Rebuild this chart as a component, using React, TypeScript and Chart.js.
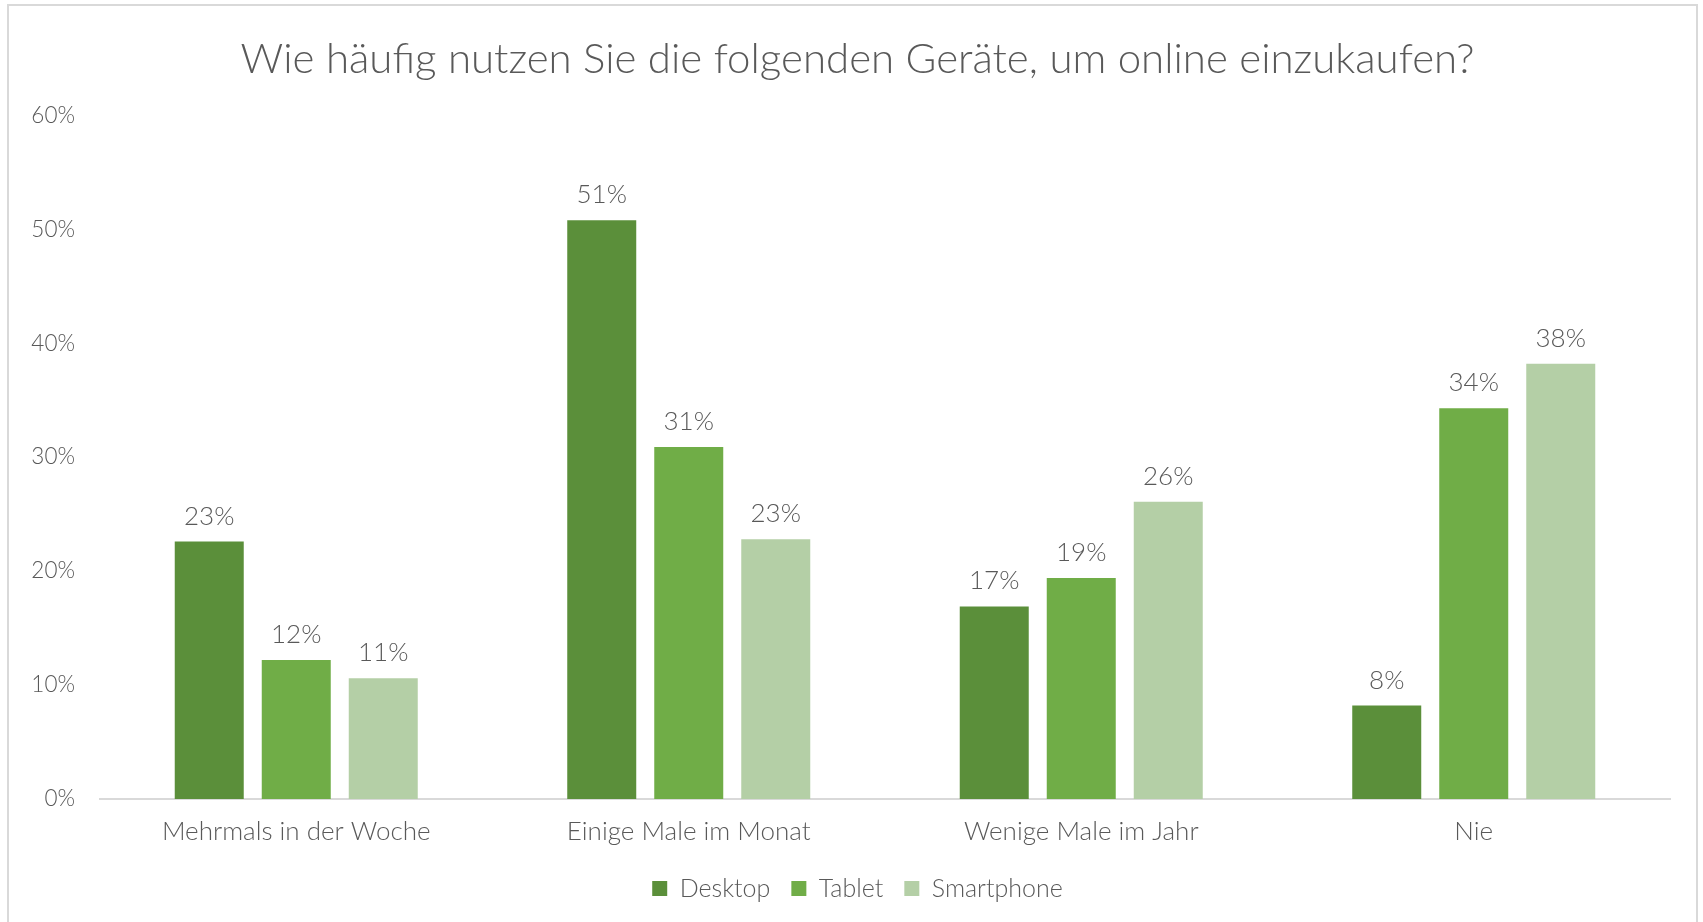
import React, { useEffect, useRef } from "react";
import { Chart, registerables } from "chart.js";

Chart.register(...registerables);

const titleText = "Wie häufig nutzen Sie die folgenden Geräte, um online einzukaufen?";
const categories = ["Mehrmals in der Woche", "Einige Male im Monat", "Wenige Male im Jahr", "Nie"];
const seriesNames = ["Desktop", "Tablet", "Smartphone"];
const desktop = [22.6, 50.8, 16.9, 8.2];
const tablet = [12.2, 30.9, 19.4, 34.3];
const smartphone = [10.6, 22.8, 26.1, 38.2];
const seriesColors = ["#5B8F3A", "#70AD47", "#B4CFA6"];
const yMin = 0;
const yMax = 60;
const yStep = 10;

const FONT = "Lato, 'Open Sans', sans-serif";
const TEXT = "#595959";

const dataLabels = {
  id: "dataLabels",
  afterDatasetsDraw(chart: any) {
    const ctx = chart.ctx;
    ctx.save();
    ctx.font = `300 26px ${FONT}`;
    ctx.fillStyle = TEXT;
    ctx.textAlign = "center";
    ctx.textBaseline = "alphabetic";
    chart.data.datasets.forEach((ds: any, i: number) => {
      const meta = chart.getDatasetMeta(i);
      meta.data.forEach((el: any, j: number) => {
        const v = ds.data[j];
        ctx.fillText(Math.round(v) + "%", el.x, el.y - 17);
      });
    });
    ctx.restore();
  },
};

export default function App() {
  const ref = useRef<HTMLCanvasElement | null>(null);
  useEffect(() => {
    if (!ref.current) return;
    const all = [desktop, tablet, smartphone];
    const chart = new Chart(ref.current, {
      type: "bar",
      data: {
        labels: categories,
        datasets: seriesNames.map((n, i) => ({
          label: n,
          data: all[i],
          backgroundColor: seriesColors[i],
          borderWidth: 0,
          categoryPercentage: 0.665,
          barPercentage: 0.793,
        })),
      },
      options: {
        animation: false,
        responsive: false,
        maintainAspectRatio: false,
        layout: { padding: { left: 12, right: 0, top: 0, bottom: 11 } },
        plugins: {
          title: {
            display: true,
            text: titleText,
            color: TEXT,
            font: { family: FONT, size: 42, weight: "300" as any },
            padding: { top: 34, bottom: 31 },
          },
          legend: {
            position: "bottom",
            labels: {
              boxWidth: 15,
              boxHeight: 15,
              color: TEXT,
              padding: 21,
              font: { family: FONT, size: 25, weight: "300" as any },
            },
          },
          tooltip: { enabled: false },
        },
        scales: {
          x: {
            grid: { display: false },
            border: { display: true, color: "#D9D9D9", width: 2 },
            afterFit: (s: any) => {
              s.height = 56;
            },
            ticks: {
              color: TEXT,
              padding: 9,
              font: { family: FONT, size: 26, weight: "300" as any },
            },
          },
          y: {
            min: yMin,
            max: yMax,
            grid: { display: false },
            border: { display: false },
            afterFit: (s: any) => {
              s.width = 88;
            },
            ticks: {
              stepSize: yStep,
              color: TEXT,
              padding: 17,
              font: { family: FONT, size: 22.5, weight: "300" as any },
              callback: (v: any) => v + "%",
            },
          },
          y2: {
            position: "right",
            min: 0,
            max: 1,
            grid: { display: false },
            border: { display: false },
            ticks: { display: false },
            afterFit: (s: any) => {
              s.width = 33;
            },
          },
        },
      },
      plugins: [dataLabels],
    });
    return () => chart.destroy();
  }, []);

  return (
    <div style={{ position: "absolute", left: 0, top: 0, width: 1703, height: 922, overflow: "hidden", background: "#fff" }}>
      <div
        style={{
          position: "absolute",
          left: 7,
          top: 4,
          width: 1691,
          height: 1000,
          border: "2px solid #D9D9D9",
          boxSizing: "border-box",
        }}
      />
      <canvas ref={ref} width={1703} height={922} style={{ position: "absolute", left: 0, top: 0, width: 1703, height: 922 }} />
    </div>
  );
}
